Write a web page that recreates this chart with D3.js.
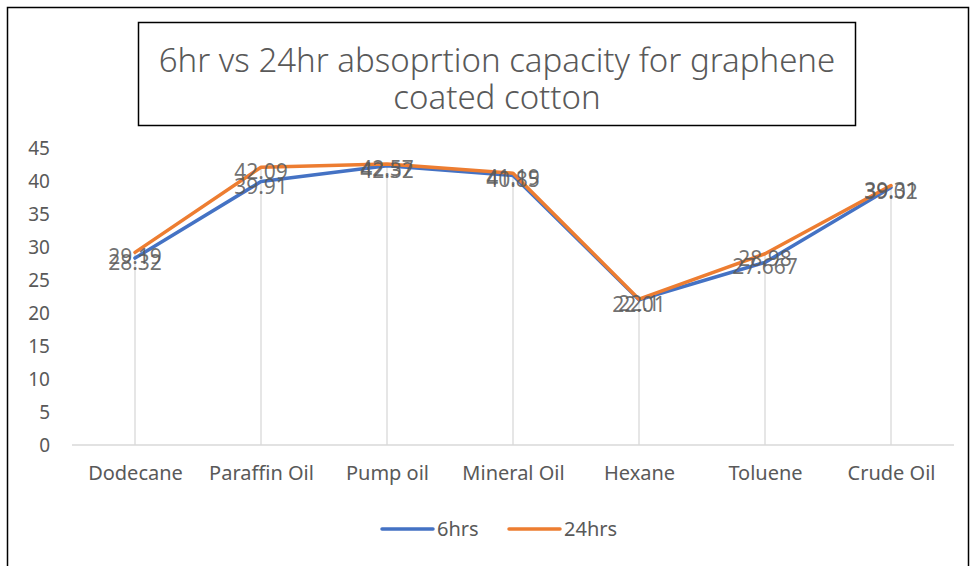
<!DOCTYPE html>
<html>
<head>
<meta charset="utf-8">
<script src="https://cdn.jsdelivr.net/npm/d3@7"></script>
<style>
  body { margin: 0; background: #fff; }
  text { font-family: "Noto Sans", "Open Sans", sans-serif; }
</style>
</head>
<body>
<div id="chart"></div>
<script>
// data
const categories = ["Dodecane", "Paraffin Oil", "Pump oil", "Mineral Oil", "Hexane", "Toluene", "Crude Oil"];
const hrs6 = [28.32, 39.91, 42.32, 40.85, 22.01, 27.667, 39.02];
const hrs24 = [29.19, 42.09, 42.57, 41.19, 22.1, 28.98, 39.31];
const yTicks = [0, 5, 10, 15, 20, 25, 30, 35, 40, 45];
const seriesNames = ["6hrs", "24hrs"];
const colors = ["#4472C4", "#ED7D31"];

const W = 971, H = 566;
const plotLeft = 72, plotRight = 954, plotTop = 148, plotBottom = 445;

const svg = d3.select("#chart").append("svg")
  .attr("width", W).attr("height", H);

// outer border
svg.append("rect")
  .attr("x", 7.5).attr("y", 7.5)
  .attr("width", 961).attr("height", 600)
  .attr("fill", "none").attr("stroke", "#000").attr("stroke-width", 1.5);

// title box
svg.append("rect")
  .attr("x", 138.5).attr("y", 22.5)
  .attr("width", 717).attr("height", 103)
  .attr("fill", "#fff").attr("stroke", "#000").attr("stroke-width", 1.5);

const titleLines = ["6hr vs 24hr absoprtion capacity for graphene", "coated cotton"];
svg.append("g").selectAll("text")
  .data(titleLines).enter()
  .append("text")
  .attr("x", 497)
  .attr("y", (d, i) => 72 + i * 37)
  .attr("text-anchor", "middle")
  .attr("font-size", 33)
  .attr("font-weight", 300)
  .attr("fill", "#595959")
  .text(d => d);

// scales
const x = d3.scalePoint()
  .domain(categories)
  .range([plotLeft, plotRight])
  .padding(0.5);

const y = d3.scaleLinear()
  .domain([0, 45])
  .range([plotBottom, plotTop]);

// y axis labels
svg.append("g")
  .attr("transform", "translate(50,0)")
  .call(d3.axisLeft(y).tickValues(yTicks).tickSize(0).tickPadding(0))
  .call(g => g.select(".domain").remove())
  .call(g => g.selectAll("text")
    .attr("font-size", 19)
    .attr("fill", "#595959")
    .style("font-family", "'Noto Sans', sans-serif"));

// drop lines
svg.append("g").selectAll("line")
  .data(categories).enter()
  .append("line")
  .attr("x1", d => x(d)).attr("x2", d => x(d))
  .attr("y1", (d, i) => y(Math.max(hrs6[i], hrs24[i])))
  .attr("y2", plotBottom)
  .attr("stroke", "#d9d9d9").attr("stroke-width", 1.3);

// x axis
svg.append("g")
  .attr("transform", "translate(0," + plotBottom + ")")
  .call(d3.axisBottom(x).tickSize(0).tickPadding(21))
  .call(g => g.select(".domain")
    .attr("d", "M" + plotLeft + ",0H" + plotRight)
    .attr("stroke", "#d9d9d9").attr("stroke-width", 1.3))
  .call(g => g.selectAll("text")
    .attr("font-size", 20)
    .attr("fill", "#595959")
    .style("font-family", "'Noto Sans', sans-serif"));

// lines
const series = [hrs6, hrs24];
const line = d3.line()
  .x((d, i) => x(categories[i]))
  .y(d => y(d));

series.forEach((s, k) => {
  svg.append("path")
    .datum(s)
    .attr("d", line)
    .attr("fill", "none")
    .attr("stroke", colors[k])
    .attr("stroke-width", 3.5)
    .attr("stroke-linejoin", "round")
    .attr("stroke-linecap", "round");
});

// data labels
series.forEach((s, k) => {
  svg.append("g").selectAll("text")
    .data(s).enter()
    .append("text")
    .attr("x", (d, i) => x(categories[i]))
    .attr("y", d => y(d) + 12)
    .attr("text-anchor", "middle")
    .attr("font-size", 21)
    .attr("fill", "#595959")
    .attr("fill-opacity", 0.85)
    .text(d => d);
});

// legend
const legendX = [380, 507];
const legend = svg.append("g").selectAll("g")
  .data(seriesNames).enter()
  .append("g")
  .attr("transform", (d, i) => "translate(" + legendX[i] + ",529)");

legend.append("line")
  .attr("x1", 2).attr("x2", 53)
  .attr("stroke", (d, i) => colors[i])
  .attr("stroke-width", 3.5)
  .attr("stroke-linecap", "round");

legend.append("text")
  .attr("x", 57).attr("y", 7)
  .attr("font-size", 20)
  .attr("fill", "#595959")
  .text(d => d);
</script>
</body>
</html>
